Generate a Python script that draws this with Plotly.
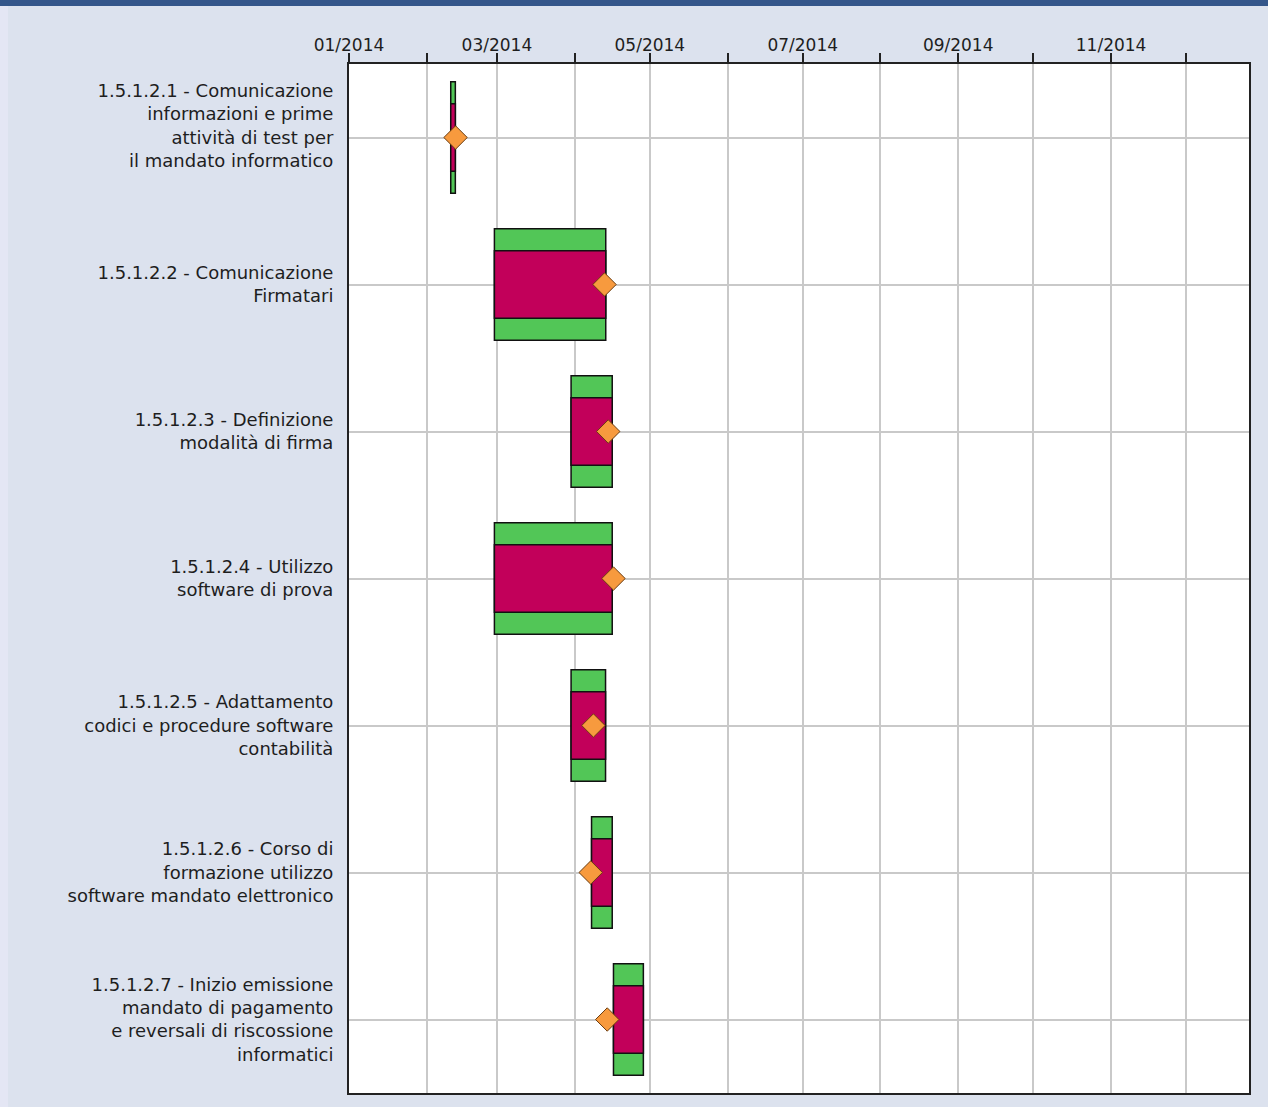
import pandas as pd
import plotly.graph_objects as go

# ---- data ----
task_labels = [
    "1.5.1.2.1 - Comunicazione<br>informazioni e prime<br>attività di test per<br>il mandato informatico<br> ",
    "1.5.1.2.2 - Comunicazione<br>Firmatari",
    "1.5.1.2.3 - Definizione<br>modalità di firma",
    "1.5.1.2.4 - Utilizzo<br>software di prova",
    "1.5.1.2.5 - Adattamento<br>codici e procedure software<br>contabilità",
    "1.5.1.2.6 - Corso di<br>formazione utilizzo<br>software mandato elettronico",
    "1.5.1.2.7 - Inizio emissione<br>mandato di pagamento<br>e reversali di riscossione<br>informatici",
]
planned_start = ["2014-02-10 14:00", "2014-02-28", "2014-03-30 14:00", "2014-02-28",
                 "2014-03-30 14:00", "2014-04-07 18:00", "2014-04-16 12:00"]
planned_end = ["2014-02-12 10:00", "2014-04-13 10:00", "2014-04-16", "2014-04-16",
               "2014-04-13 08:00", "2014-04-16", "2014-04-28 10:00"]
actual_start = planned_start
actual_end = planned_end
milestone = ["2014-02-12 12:00", "2014-04-12 22:00", "2014-04-14 10:00", "2014-04-16 12:00",
             "2014-04-08 12:00", "2014-04-07 10:00", "2014-04-14"]

month_ticks = pd.date_range("2014-01-01", "2014-12-01", freq="MS")
month_text = [d.strftime("%m/%Y") if d.month % 2 == 1 else "" for d in month_ticks]

# ---- figure ----
rows = list(range(len(task_labels)))


def durations(starts, ends):
    return [(pd.Timestamp(e) - pd.Timestamp(s)).total_seconds() * 1000 for s, e in zip(starts, ends)]


fig = go.Figure()
fig.add_trace(go.Bar(
    y=rows, x=durations(planned_start, planned_end), base=planned_start,
    orientation="h", width=0.76,
    marker=dict(color="#52c657", line=dict(color="#111111", width=1.5)),
    showlegend=False, hoverinfo="skip",
))
fig.add_trace(go.Bar(
    y=rows, x=durations(actual_start, actual_end), base=actual_start,
    orientation="h", width=0.46,
    marker=dict(color="#c2005a", line=dict(color="#111111", width=1.5)),
    showlegend=False, hoverinfo="skip",
))
fig.add_trace(go.Scatter(
    y=rows, x=milestone, mode="markers",
    marker=dict(symbol="diamond", size=18, color="#f79a3e",
                line=dict(color="#6a3c10", width=1)),
    showlegend=False, hoverinfo="skip",
))

W, H = 1268, 1107
L, R, T, B = 349, 1249, 64, 1093

fig.update_layout(
    width=W, height=H,
    margin=dict(l=L, r=W - R, t=T, b=H - B, autoexpand=False),
    paper_bgcolor="#dce2ee",
    plot_bgcolor="#ffffff",
    barmode="overlay",
    font=dict(family="DejaVu Sans", size=17, color="#1e1e1e"),
    xaxis=dict(
        type="date", side="top",
        range=["2014-01-01", "2014-12-26"],
        tickvals=list(month_ticks), ticktext=month_text,
        ticks="outside", ticklen=9, tickwidth=1.5, tickcolor="#222222",
        ticklabelstandoff=-5,
        showgrid=True, gridcolor="#c9c9c9", gridwidth=1.5,
        showline=True, linecolor="#222222", linewidth=2, mirror=True,
        tickfont=dict(size=17, family="DejaVu Sans", color="#1e1e1e"),
        zeroline=False,
    ),
    yaxis=dict(
        range=[len(task_labels) - 0.5, -0.5],
        tickvals=rows, ticktext=task_labels,
        ticks="", ticklabelstandoff=10,
        showgrid=True, gridcolor="#c9c9c9", gridwidth=1.5,
        showline=True, linecolor="#222222", linewidth=2, mirror=True,
        tickfont=dict(size=18, family="DejaVu Sans", color="#1e1e1e"),
        zeroline=False,
    ),
    shapes=[
        dict(type="rect", xref="paper", yref="paper",
             x0=-L / (R - L), x1=(W - L) / (R - L),
             y0=1 + (T - 6) / (B - T), y1=1 + T / (B - T),
             fillcolor="#34568a", line=dict(width=0), layer="below"),
        dict(type="rect", xref="paper", yref="paper",
             x0=-L / (R - L), x1=(8 - L) / (R - L),
             y0=-(H - B) / (B - T), y1=1 + (T - 6) / (B - T),
             fillcolor="#e4e6f4", line=dict(width=0), layer="below"),
    ],
)

fig.write_html(
    "out.html",
    config={"displayModeBar": False},
    post_script="document.body.style.margin='0';document.body.style.background='#dce2ee';",
)
